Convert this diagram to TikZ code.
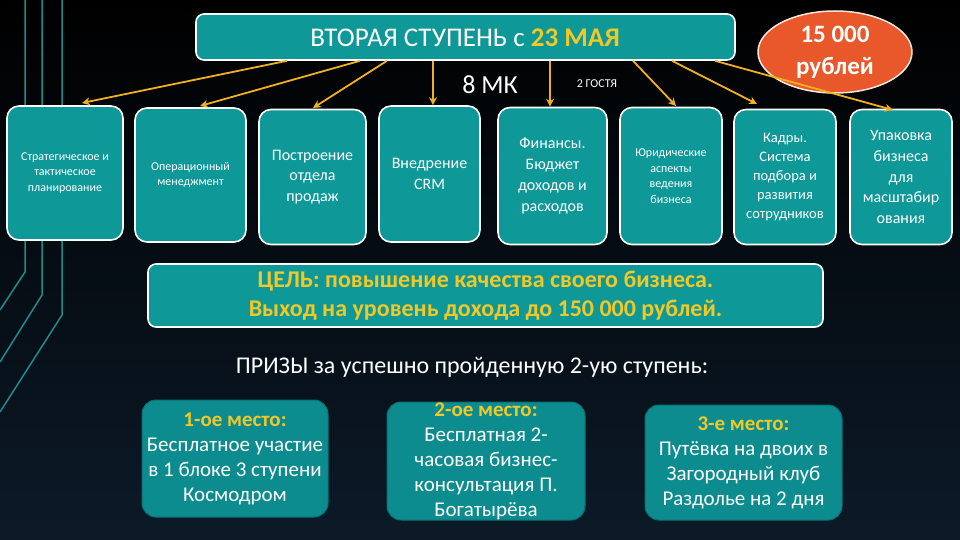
\documentclass[tikz,border=0pt]{standalone}
\usepackage{fontspec}
\setmainfont{Carlito}
\usetikzlibrary{shapes.geometric,arrows.meta}
\definecolor{tealb}{RGB}{14,152,152}
\definecolor{tealp}{RGB}{12,140,142}
\definecolor{goldt}{RGB}{240,200,40}
\definecolor{arr}{RGB}{240,176,32}
\definecolor{orng}{RGB}{232,88,42}
\definecolor{linec}{RGB}{30,140,140}
\begin{document}
\begin{tikzpicture}[x=1pt,y=-1pt,
  box/.style={draw=white,line width=1.6pt,fill=tealb,rounded corners=12pt,inner sep=0},
  pbox/.style={draw=tealp!80!black,line width=1pt,fill=tealp,rounded corners=14pt},
  con/.style={draw=arr,line width=1.8pt,-{Stealth[length=8pt,width=8pt]}},
  txt/.style={text=white,align=center,font=\fontsize{#1}{#1}\selectfont}]
\shade[top color=black,bottom color={rgb,255:red,12;green,26;blue,40}] (0,0) rectangle (960,540);
\useasboundingbox (0,0) rectangle (960,540);
% left decoration lines
\draw[linec,line width=1.5pt] (25,0) -- (25,272) -- (0,310);
\draw[linec,line width=1.5pt] (42,0) -- (42,295) -- (0,362);
\draw[linec,line width=1.5pt] (62,0) -- (62,315) -- (0,412);
% title
\node[box,rounded corners=8pt,minimum width=539pt,minimum height=46pt] (title) at (465.5,37) {};
\node[txt=27] (tt) at (465,38) {ВТОРАЯ СТУПЕНЬ с \textcolor{goldt}{\textbf{23 МАЯ}}};
\node[ellipse,draw=white!85!orng,line width=1.5pt,fill=orng,minimum width=154pt,minimum height=82pt] (price) at (835,52) {};
\node[txt=20,font=\fontsize{25}{32}\selectfont\bfseries] (pt) at (835,52) {15 000\\рублей};
\node[txt=26] (mk) at (490,85) {8 МК};
\node[txt=12] (g) at (597,84) {2 ГОСТЯ};
% row boxes
\def\rb#1#2#3#4#5#6#7{\node[box,minimum width=#4pt,minimum height=#5pt] (#1) at (#2,#3) {};
  \node[txt=#6,font=\fontsize{#6}{1.3\dimexpr#6pt\relax}\selectfont] at (#1) {#7};}
\rb{b1}{65}{173}{116}{134}{12}{Стратегическое и\\тактическое\\планирование}
\rb{b2}{190.5}{175}{111}{134}{12}{Операционный\\менеджмент}
\rb{b3}{312.5}{177}{107}{135}{16}{Построение\\отдела\\продаж}
\rb{b4}{429.5}{174}{101}{136}{16}{Внедрение\\CRM}
\rb{b5}{552.5}{176}{109}{137}{16}{Финансы.\\Бюджет\\доходов и\\расходов}
\rb{b6}{671}{176}{102}{137}{12}{Юридические\\аспекты\\ведения\\бизнеса}
\rb{b7}{785}{177}{102}{135}{14.5}{Кадры.\\Система\\подбора и\\развития\\сотрудников}
\rb{b8}{901}{177}{102}{135}{16}{Упаковка\\бизнеса\\для\\масштабир\\ования}
% arrows
\draw[con] (title.south -| 287,0) -- (82,103);
\draw[con] (title.south -| 360,0) -- (200,106);
\draw[con] (title.south -| 387,0) -- (313,108);
\draw[con] (title.south -| 433,0) -- (b4.north -| 433,0);
\draw[con] (title.south -| 550,0) -- (b5.north -| 550,0);
\draw[con] (title.south -| 633,0) -- (676,106);
\draw[con] (title.south -| 672,0) -- (757,104);
\draw[con] (title.south -| 715,0) -- (893,110);
% goal
\node[box,rounded corners=8pt,minimum width=675pt,minimum height=63pt] (goal) at (485.5,295.5) {};
\node[text=goldt,align=center,font=\fontsize{24}{29}\selectfont\bfseries] at (goal) {ЦЕЛЬ: повышение качества своего бизнеса.\\Выход на уровень дохода до 150 000 рублей.};
\node[txt=24] (prz) at (472,367) {ПРИЗЫ за успешно пройденную 2-ую ступень:};
% prizes
\node[pbox,minimum width=186pt,minimum height=117pt] (p1) at (235,458.5) {};
\node[txt=21,font=\fontsize{21}{25}\selectfont] at (p1) {\textcolor{goldt}{\textbf{1-ое место:}}\\Бесплатное участие\\в 1 блоке 3 ступени\\Космодром};
\node[pbox,minimum width=198pt,minimum height=118pt] (p2) at (486,461) {};
\node[txt=21,font=\fontsize{21}{25}\selectfont] at (p2) {\textcolor{goldt}{\textbf{2-ое место:}}\\Бесплатная 2-\\часовая бизнес-\\консультация П.\\Богатырёва};
\node[pbox,minimum width=197pt,minimum height=115pt] (p3) at (743.5,462.5) {};
\node[txt=21,font=\fontsize{21}{25}\selectfont] at (p3) {\textcolor{goldt}{\textbf{3-е место:}}\\Путёвка на двоих в\\Загородный клуб\\Раздолье на 2 дня};
\end{tikzpicture}
\end{document}
